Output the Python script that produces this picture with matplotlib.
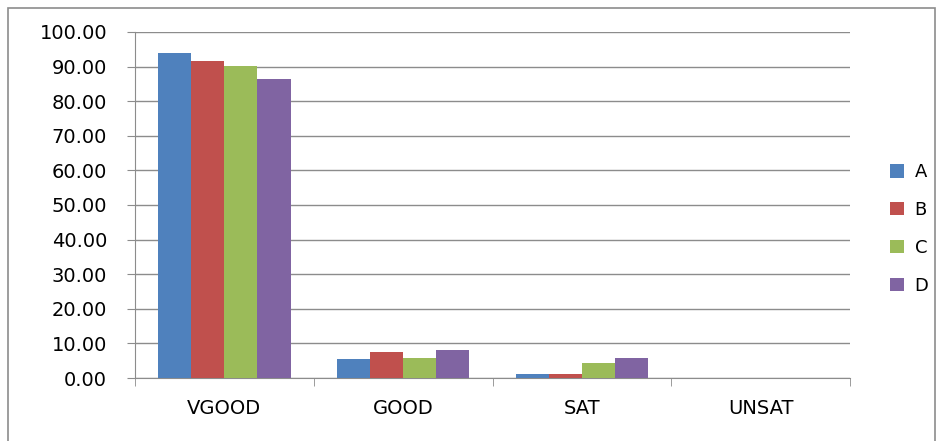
import matplotlib.pyplot as plt
import numpy as np
from matplotlib.patches import Rectangle

categories = ['VGOOD', 'GOOD', 'SAT', 'UNSAT']
series = ['A', 'B', 'C', 'D']
A = [93.8, 5.4, 1.2, 0.0]
B = [91.6, 7.6, 1.2, 0.0]
C = [90.2, 5.9, 4.2, 0.0]
D = [86.3, 8.1, 5.9, 0.0]
colors = ['#4F81BD', '#C0504D', '#9BBB59', '#8064A2']

fig = plt.figure(figsize=(9.4, 4.41), dpi=100)
# outer chart border
fig.patches.append(Rectangle((8 / 940, -0.05), 927 / 940, 1 - 8 / 441 + 0.05,
                             transform=fig.transFigure, fill=False,
                             edgecolor='#8c8c8c', linewidth=1.2))

ax = fig.add_axes([135 / 940, 1 - 378 / 441, 715 / 940, 346 / 441])

x = np.arange(len(categories))
w = 0.185
for i, (vals, name) in enumerate(zip([A, B, C, D], series)):
    ax.bar(x + (i - 1.5) * w, vals, w, color=colors[i], label=name, zorder=3)

ax.set_xlim(-0.5, 3.5)
ax.set_ylim(0, 100)
ax.set_yticks(np.arange(0, 101, 10))
ax.set_yticklabels(['%.2f' % v for v in np.arange(0, 101, 10)], fontsize=14)
ax.yaxis.grid(True, color='#8c8c8c', linewidth=1, zorder=0)

ax.set_xticks(x)
ax.set_xticklabels(categories, fontsize=14)
ax.tick_params(axis='x', length=0, pad=15)
# category boundary tick marks
ax.set_xticks(np.arange(-0.5, 4.0, 1), minor=True)
ax.tick_params(axis='x', which='minor', length=6, color='#8c8c8c')
ax.tick_params(axis='y', length=6, color='#8c8c8c', pad=14)

for s in ['top', 'right']:
    ax.spines[s].set_visible(False)
for s in ['left', 'bottom']:
    ax.spines[s].set_color('#8c8c8c')

leg = fig.legend(loc='center left', bbox_to_anchor=(874 / 940, 1 - 229 / 441),
                 frameon=False, fontsize=13, handlelength=0.75, handleheight=0.75,
                 labelspacing=1.1, handletextpad=0.6)

plt.savefig('out.png', dpi=100)
